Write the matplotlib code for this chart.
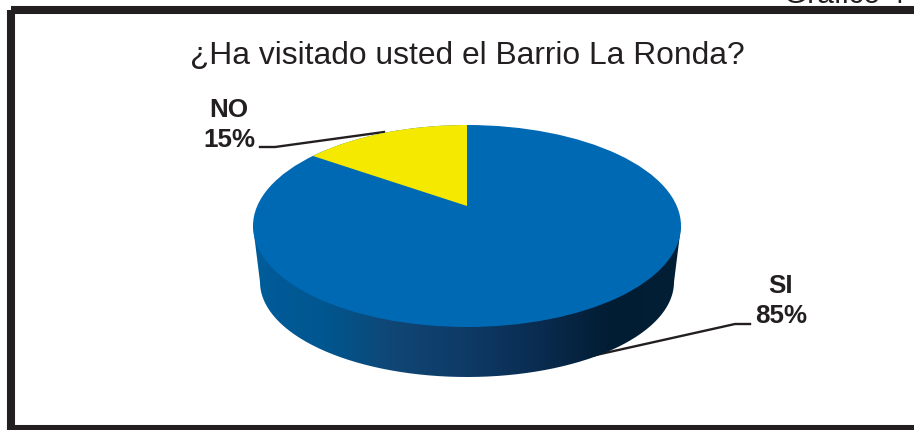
import numpy as np
import matplotlib
matplotlib.use('Agg')
import matplotlib.pyplot as plt
from matplotlib.colors import LinearSegmentedColormap
from matplotlib.patches import Ellipse, PathPatch, Polygon, Rectangle
from matplotlib.path import Path

plt.rcParams['font.family'] = ['Liberation Sans', 'DejaVu Sans']

titulo = '¿Ha visitado usted el Barrio La Ronda?'
grafico = 'Gráfico 4'
categorias = ['NO', 'SI']
porcentajes = [15, 85]

AZUL = '#0069b4'
AMARILLO = '#f5e900'
NEGRO = '#231f20'
# shading along the side wall, left to right
pared = ['#005c9b', '#00568f', '#104674', '#0e3a66', '#0a2c50', '#021d33', '#011f36']

# pie geometry in pixels
cx, cy, rx, ry = 467, 227, 214, 101
apice_y = 207
cx_base, cy_base, rx_base, ry_base = 467, 283, 207, 95
squash = 0.447


def borde(angulo):
    # where a ray from the apex hits the top ellipse, angle clockwise from 12 o'clock
    dx = np.sin(angulo)
    dy = -np.cos(angulo) * squash
    ey = apice_y - cy
    a = (dx / rx) ** 2 + (dy / ry) ** 2
    b = 2 * ey * dy / ry ** 2
    c = (ey / ry) ** 2 - 1
    t = (-b + np.sqrt(b * b - 4 * a * c)) / (2 * a)
    return cx + t * dx, apice_y + t * dy


fig = plt.figure(figsize=(9.14, 4.31), dpi=100)
ax = fig.add_axes([0, 0, 1, 1])
ax.set_xlim(0, 914)
ax.set_ylim(431, 0)
ax.axis('off')

# frame, open towards the right edge
ax.add_patch(Rectangle((11, 11), 930, 419, fill=False, ec=NEGRO, lw=5.8, zorder=1))
ax.text(784, 3, grafico, fontsize=21.5, color=NEGRO, ha='left', va='baseline', zorder=1)

# leader lines go under the pie
ax.plot([260, 275, 384], [148, 148, 133], color=NEGRO, lw=1.7, zorder=2)
ax.plot([560, 735, 750], [364, 325, 325], color=NEGRO, lw=1.7, zorder=2)

# side wall: gradient clipped to the outline of the two ellipses
t = np.linspace(np.pi, 0, 200)
lado = np.column_stack([cx_base + rx_base * np.cos(t), cy_base + ry_base * np.sin(t)])
contorno = np.vstack([[[cx - rx, cy]], lado, [[cx + rx, cy]], [[cx - rx, cy]]])
cmap = LinearSegmentedColormap.from_list('pared', pared)
img = ax.imshow(np.linspace(0, 1, 256)[None, :], cmap=cmap, aspect='auto', zorder=3,
                extent=(cx - rx, cx + rx, 380, cy))
img.set_clip_path(PathPatch(Path(contorno), transform=ax.transData))
ax.set_xlim(0, 914)
ax.set_ylim(431, 0)

# top face
ax.add_patch(Ellipse((cx, cy), 2 * rx, 2 * ry, fc=AZUL, ec='none', zorder=4))
fin = np.radians(porcentajes[0] * 3.6)
angulos = np.linspace(-fin, 0, 60)
x_b, y_b = borde(angulos)
ax.add_patch(Polygon(np.column_stack([np.r_[cx, x_b], np.r_[apice_y, y_b]]),
                     closed=True, fc=AMARILLO, ec='none', zorder=5))

ax.text(467, 56, titulo, fontsize=22.9, color=NEGRO, ha='center', va='center')
ax.text(229, 125, f'{categorias[0]}\n{porcentajes[0]}%', fontsize=18.7, fontweight='bold',
        color=NEGRO, ha='center', va='center', linespacing=1.28)
ax.text(781, 301, f'{categorias[1]}\n{porcentajes[1]}%', fontsize=18.7, fontweight='bold',
        color=NEGRO, ha='center', va='center', linespacing=1.36)

fig.savefig('out.png', dpi=100)
